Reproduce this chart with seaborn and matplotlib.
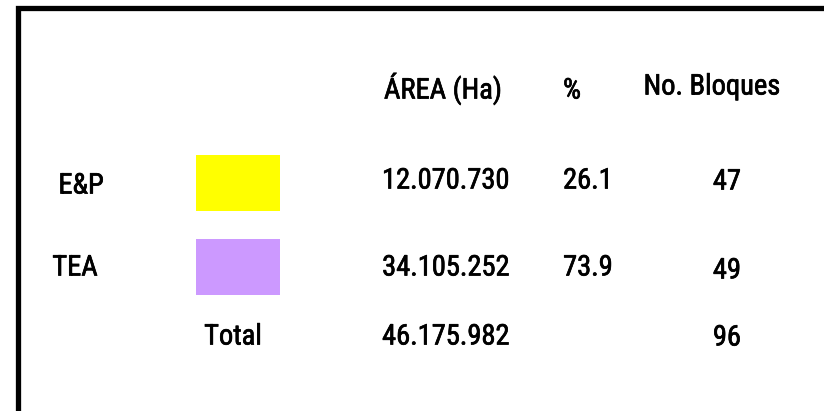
import matplotlib
matplotlib.use("Agg")
import matplotlib.pyplot as plt
import matplotlib.patheffects as pe
import seaborn as sns
import pandas as pd

# ---- data ----
categories = ["E&P", "TEA"]
swatch_colors = ["#FFFF00", "#CC99FF"]
area_ha = ["12.070.730", "34.105.252"]
percent = ["26.1", "73.9"]
bloques = ["47", "49"]
total_label = "Total"
total_area = "46.175.982"
total_bloques = "96"
headers = ["ÁREA (Ha)", "%", "No. Bloques"]

sns.set_theme(style="white")
plt.rcParams["font.family"] = ["Roboto Condensed", "Archivo Narrow", "DejaVu Sans"]

W, H = 824, 411
fig = plt.figure(figsize=(W / 100, H / 100), dpi=100)
ax = fig.add_axes([0, 0, 1, 1])
ax.set_xlim(0, W)
ax.set_ylim(H, 0)
ax.axis("off")

# frame (top and left edges)
ax.plot([18, 18, W + 5], [H + 5, 8.5, 8.5], color="black", lw=3.8,
        solid_joinstyle="miter", solid_capstyle="butt")

fs = 20.5
txt = dict(fontsize=fs, color="black", ha="center", va="center_baseline", fontweight="normal",
           path_effects=[pe.withStroke(linewidth=0.5, foreground="black")])

def put(x, y_center, s):
    ax.text(x, y_center - 2, s, **txt)

# header
put(443, 88, headers[0])
put(572, 90, headers[1])
put(712, 86, headers[2])

# rows
row_y = [180, 267]
bloq_y = [181, 270]
label_x = [81, 75]
label_y = [185, 267]
df = pd.DataFrame({"cat": categories, "y": [183, 267], "color": swatch_colors})
ax.barh(df["y"], width=84, left=196, height=56, color=df["color"], edgecolor="none")
for i, cat in enumerate(categories):
    put(label_x[i], label_y[i], cat)
    put(446, row_y[i], area_ha[i])
    put(588, row_y[i], percent[i])
    put(727, bloq_y[i], bloques[i])

# total row
put(233, 336, total_label)
put(446, 336, total_area)
put(727, 337, total_bloques)

fig.savefig("out.png", dpi=100)
